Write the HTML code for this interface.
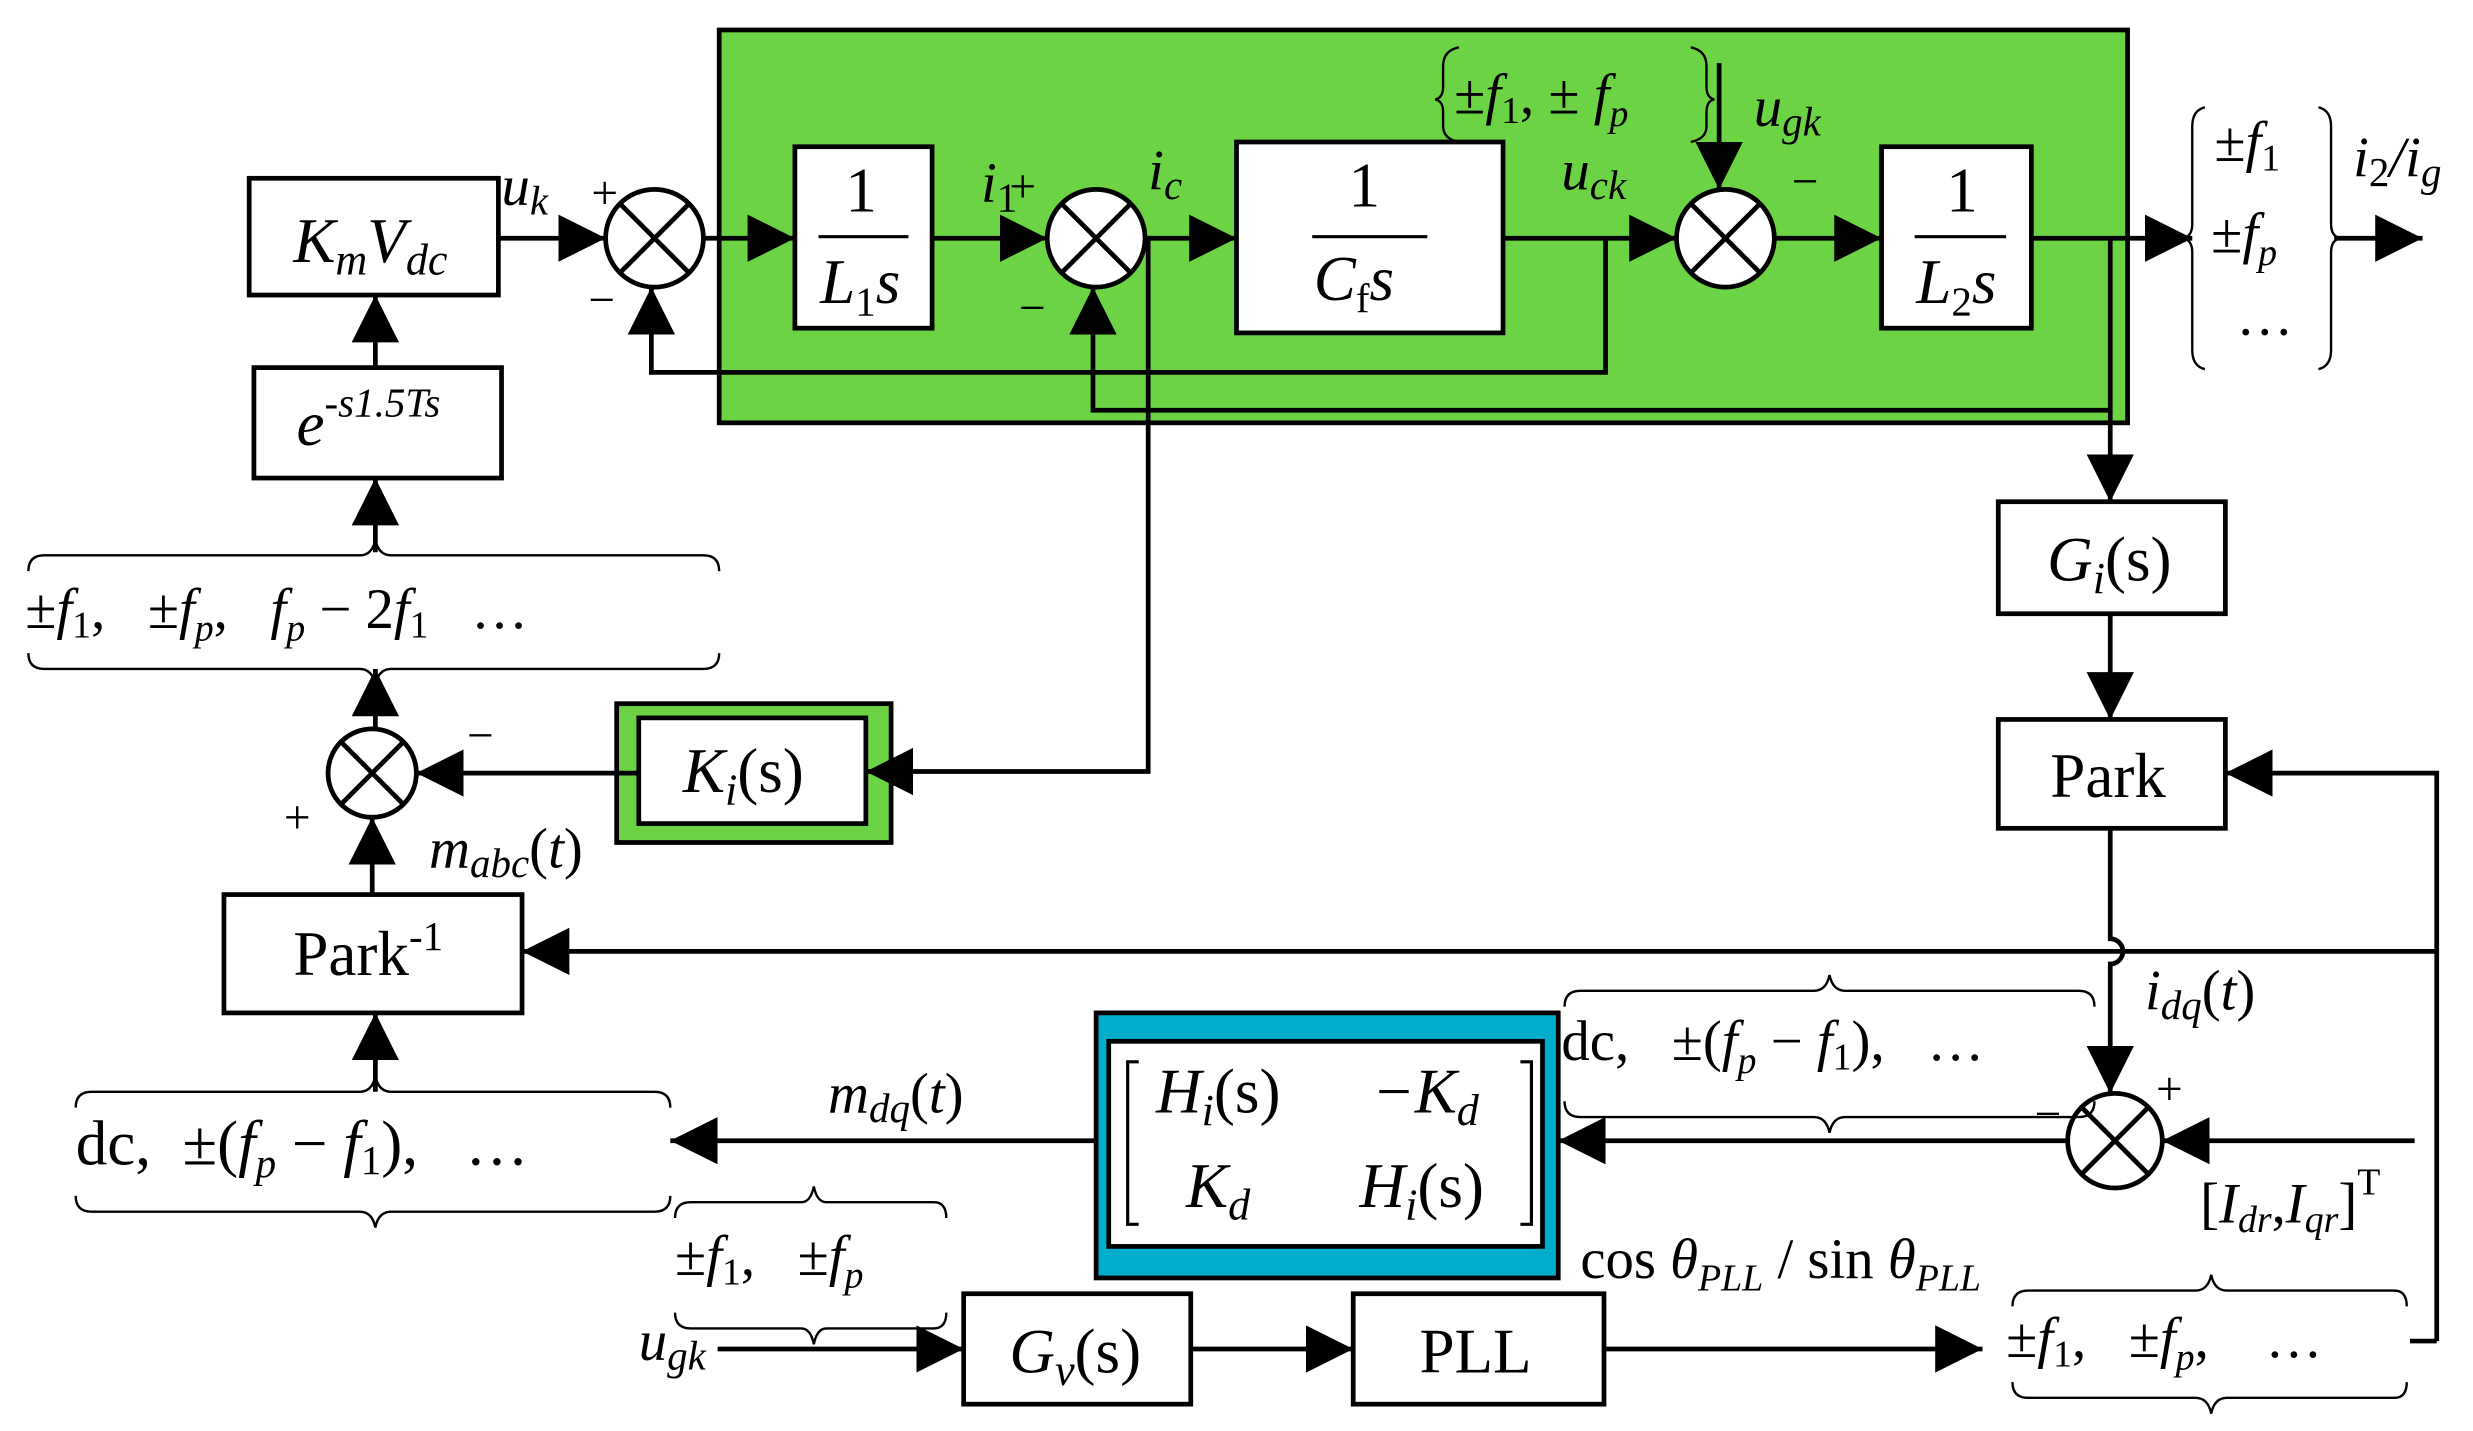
<!DOCTYPE html>
<html><head><meta charset="utf-8"><style>
html,body{margin:0;padding:0;background:#fff}
svg{display:block}
text{font-family:"Liberation Serif",serif;fill:#000;white-space:pre}
.i{font-style:italic}
</style></head><body>
<svg width="2473" height="1431" viewBox="0 0 1568 907" preserveAspectRatio="none" xmlns="http://www.w3.org/2000/svg">
<defs>
<marker id="a" viewBox="0 0 10 10" refX="10" refY="5" markerWidth="30" markerHeight="34" markerUnits="userSpaceOnUse" orient="auto"><path d="M0,0L10,5L0,10z"/></marker>
</defs>
<g stroke="#000" stroke-width="3" fill="none">
<rect x="456" y="19" width="893" height="249" fill="#6cd444"/>
<rect x="158" y="113" width="158" height="74" fill="#fff"/>
<rect x="161" y="233" width="157" height="70" fill="#fff"/>
<rect x="504" y="93" width="87" height="115" fill="#fff"/>
<rect x="784" y="90" width="169" height="121" fill="#fff"/>
<rect x="1193" y="93" width="95" height="115" fill="#fff"/>
<rect x="391" y="446" width="174" height="88" fill="#6cd444"/>
<rect x="405" y="455" width="144" height="67" fill="#fff"/>
<rect x="142" y="567" width="189" height="75" fill="#fff"/>
<rect x="1267" y="318" width="144" height="71" fill="#fff"/>
<rect x="1267" y="456" width="144" height="69" fill="#fff"/>
<rect x="695" y="642" width="293" height="168" fill="#00aecb"/>
<rect x="703" y="660" width="275" height="130" fill="#fff"/>
<rect x="611" y="820" width="144" height="70" fill="#fff"/>
<rect x="858" y="820" width="159" height="70" fill="#fff"/>
<g fill="#fff">
<circle cx="415" cy="151" r="31"/><circle cx="695" cy="151" r="31"/>
<circle cx="1094" cy="151" r="31"/><circle cx="236" cy="490" r="28"/>
<circle cx="1341" cy="723" r="30"/>
</g>
<path d="M393,129L437,173M437,129L393,173M673,129L717,173M717,129L673,173M1072,129L1116,173M1116,129L1072,173M216,470L256,510M256,470L216,510M1320,702L1362,744M1362,702L1320,744"/>
<path d="M519,150H576M832,150H905M1214,150H1272" stroke-width="2"/>
<path d="M316,151H384" marker-end="url(#a)"/>
<path d="M446,151H504" marker-end="url(#a)"/>
<path d="M591,151H664" marker-end="url(#a)"/>
<path d="M726,151H784" marker-end="url(#a)"/>
<path d="M953,151H1063" marker-end="url(#a)"/>
<path d="M1125,151H1193" marker-end="url(#a)"/>
<path d="M1288,151H1390" marker-end="url(#a)"/>
<path d="M1480,151H1536" marker-end="url(#a)"/>
<path d="M1090,40V120" marker-end="url(#a)"/>
<path d="M1018,151V236H413V182" marker-end="url(#a)"/>
<path d="M1338,151V260H693V182" marker-end="url(#a)"/>
<path d="M1338,260V318" marker-end="url(#a)"/>
<path d="M728,151V489H549" marker-end="url(#a)"/>
<path d="M405,490H264" marker-end="url(#a)"/>
<path d="M238,233V187" marker-end="url(#a)"/>
<path d="M238,350V303" marker-end="url(#a)"/>
<path d="M238,462V424" marker-end="url(#a)"/>
<path d="M236,567V518" marker-end="url(#a)"/>
<path d="M238,692V642" marker-end="url(#a)"/>
<path d="M1338,389V456" marker-end="url(#a)"/>
<path d="M1338,525V595A8,8 0 0 1 1338,611V693" marker-end="url(#a)"/>
<path d="M1545,603H331" marker-end="url(#a)"/>
<path d="M1545,850V490H1411" marker-end="url(#a)"/>
<path d="M1528,850H1545"/>
<path d="M1531,723H1371" marker-end="url(#a)"/>
<path d="M1311,723H988" marker-end="url(#a)"/>
<path d="M695,723H425" marker-end="url(#a)"/>
<path d="M455,855H611" marker-end="url(#a)"/>
<path d="M755,855H858" marker-end="url(#a)"/>
<path d="M1017,855H1257" marker-end="url(#a)"/>
<path d="M722,673H715V776H722M964,673H971V776H964" stroke-width="2"/>
</g>
<g stroke="#000" stroke-width="1.5" fill="none">
<path d="M18,362Q18,352 28,352H228Q236,352 238,342Q240,352 248,352H446Q456,352 456,362"/>
<path d="M18,414Q18,424 28,424H228Q236,424 238,434Q240,424 248,424H446Q456,424 456,414"/>
<path d="M48,702Q48,692 58,692H228Q236,692 238,682Q240,692 248,692H415Q425,692 425,702"/>
<path d="M48,758Q48,768 58,768H228Q236,768 238,778Q240,768 248,768H415Q425,768 425,758"/>
<path d="M428,772Q428,762 438,762H508Q514,762 516,752Q518,762 524,762H592Q600,762 600,772"/>
<path d="M428,832Q428,842 438,842H508Q514,842 516,852Q518,842 524,842H592Q600,842 600,832"/>
<path d="M992,638Q992,628 1002,628H1150Q1158,628 1160,618Q1162,628 1170,628H1318Q1328,628 1328,638"/>
<path d="M992,698Q992,708 1002,708H1150Q1158,708 1160,718Q1162,708 1170,708H1318Q1328,708 1328,698"/>
<path d="M1276,828Q1276,818 1286,818H1392Q1400,818 1402,808Q1404,818 1412,818H1518Q1526,818 1526,828"/>
<path d="M1276,876Q1276,886 1286,886H1392Q1400,886 1402,896Q1404,886 1412,886H1518Q1526,886 1526,876"/>
<path d="M1398,68Q1390,70 1390,80V142Q1390,150 1384,151Q1390,152 1390,160V222Q1390,232 1398,234"/>
<path d="M1470,68Q1478,70 1478,80V142Q1478,150 1484,151Q1478,152 1478,160V222Q1478,232 1470,234"/>
<path d="M925,30Q915,32 915,42V55Q915,62 910,63Q915,64 915,71V80Q915,88 925,90"/>
<path d="M1072,30Q1082,32 1082,42V55Q1082,62 1087,63Q1082,64 1082,71V80Q1082,88 1072,90"/>
</g>
<g font-size="40">
<text x="186" y="166" class="i">K<tspan font-size="28" dy="8">m</tspan><tspan dy="-8">V</tspan><tspan font-size="28" dy="8">dc</tspan></text>
<text x="188" y="282" class="i">e<tspan font-size="26" dy="-18">-s1.5Ts</tspan></text>
<text x="536" y="134">1</text>
<text x="520" y="192" class="i">L<tspan font-size="26" dy="8" font-style="normal">1</tspan><tspan dy="-8">s</tspan></text>
<text x="855" y="131">1</text>
<text x="833" y="190" class="i">C<tspan font-size="26" dy="8" font-style="normal">f</tspan><tspan dy="-8">s</tspan></text>
<text x="1234" y="134">1</text>
<text x="1215" y="192" class="i">L<tspan font-size="26" dy="8" font-style="normal">2</tspan><tspan dy="-8">s</tspan></text>
<text x="433" y="502" class="i">K<tspan font-size="28" dy="8">i</tspan><tspan font-style="normal" dy="-8">(s)</tspan></text>
<text x="186" y="618">Park<tspan font-size="26" dy="-16">-1</tspan></text>
<text x="1298" y="368" class="i">G<tspan font-size="28" dy="8">i</tspan><tspan font-style="normal" dy="-8">(s)</tspan></text>
<text x="1300" y="505">Park</text>
<text x="640" y="870" class="i">G<tspan font-size="28" dy="8">v</tspan><tspan font-style="normal" dy="-8">(s)</tspan></text>
<text x="900" y="870">PLL</text>
<text x="733" y="705" class="i">H<tspan font-size="28" dy="8">i</tspan><tspan font-style="normal" dy="-8">(s)</tspan></text>
<text x="870" y="705" class="i">−K<tspan font-size="28" dy="8">d</tspan></text>
<text x="752" y="765" class="i">K<tspan font-size="28" dy="8">d</tspan></text>
<text x="862" y="765" class="i">H<tspan font-size="28" dy="8">i</tspan><tspan font-style="normal" dy="-8">(s)</tspan></text>
</g>
<g font-size="36">
<text x="318" y="130" class="i">u<tspan font-size="26" dy="6">k</tspan></text>
<text x="622" y="128" class="i">i<tspan font-size="26" dy="6" font-style="normal">1</tspan></text>
<text x="728" y="120" class="i">i<tspan font-size="26" dy="6">c</tspan></text>
<text x="990" y="120" class="i">u<tspan font-size="26" dy="6">ck</tspan></text>
<text x="1112" y="80" class="i">u<tspan font-size="26" dy="6">gk</tspan></text>
<text x="1492" y="112" class="i">i<tspan font-size="26" dy="6" font-style="normal">2</tspan><tspan dy="-6">/i</tspan><tspan font-size="26" dy="6">g</tspan></text>
<text x="922" y="72">±<tspan class="i">f</tspan><tspan font-size="24" dy="6">1</tspan><tspan dy="-6">, ± </tspan><tspan class="i">f</tspan><tspan font-size="24" dy="8" class="i">p</tspan></text>
<text x="1404" y="102">±<tspan class="i">f</tspan><tspan font-size="24" dy="6">1</tspan></text>
<text x="1402" y="160">±<tspan class="i">f</tspan><tspan font-size="24" dy="8" class="i">p</tspan></text>
<text x="1418" y="212">…</text>
<text x="16" y="398">±<tspan class="i">f</tspan><tspan font-size="24" dy="6">1</tspan><tspan dy="-6">,   ±</tspan><tspan class="i">f</tspan><tspan font-size="24" dy="8" class="i">p</tspan><tspan dy="-8">,   </tspan><tspan class="i">f</tspan><tspan font-size="24" dy="8" class="i">p</tspan><tspan dy="-8"> − 2</tspan><tspan class="i">f</tspan><tspan font-size="24" dy="6">1</tspan><tspan dy="-6">   …</tspan></text>
<text x="272" y="550" class="i">m<tspan font-size="26" dy="6">abc</tspan><tspan dy="-6" font-style="normal">(</tspan>t<tspan font-style="normal">)</tspan></text>
<text x="525" y="705" class="i">m<tspan font-size="26" dy="6">dq</tspan><tspan dy="-6" font-style="normal">(</tspan>t<tspan font-style="normal">)</tspan></text>
<text x="1360" y="640" class="i">i<tspan font-size="26" dy="6">dq</tspan><tspan dy="-6" font-style="normal">(</tspan>t<tspan font-style="normal">)</tspan></text>
<text x="48" y="738" font-size="40">dc,  ±(<tspan class="i">f</tspan><tspan font-size="26" dy="8" class="i">p</tspan><tspan dy="-8"> − </tspan><tspan class="i">f</tspan><tspan font-size="26" dy="6">1</tspan><tspan dy="-6">),   …</tspan></text>
<text x="990" y="672">dc,   ±(<tspan class="i">f</tspan><tspan font-size="24" dy="8" class="i">p</tspan><tspan dy="-8"> − </tspan><tspan class="i">f</tspan><tspan font-size="24" dy="6">1</tspan><tspan dy="-6">),   …</tspan></text>
<text x="428" y="808">±<tspan class="i">f</tspan><tspan font-size="24" dy="6">1</tspan><tspan dy="-6">,   ±</tspan><tspan class="i">f</tspan><tspan font-size="24" dy="8" class="i">p</tspan></text>
<text x="1272" y="860">±<tspan class="i">f</tspan><tspan font-size="24" dy="6">1</tspan><tspan dy="-6">,   ±</tspan><tspan class="i">f</tspan><tspan font-size="24" dy="8" class="i">p</tspan><tspan dy="-8">,    …</tspan></text>
<text x="1002" y="810">cos <tspan class="i">θ</tspan><tspan font-size="24" dy="8" class="i">PLL</tspan><tspan dy="-8"> / sin </tspan><tspan class="i">θ</tspan><tspan font-size="24" dy="8" class="i">PLL</tspan></text>
<text x="405" y="862" class="i">u<tspan font-size="26" dy="6">gk</tspan></text>
<text x="1395" y="775">[<tspan class="i">I</tspan><tspan font-size="24" dy="6" class="i">dr</tspan><tspan dy="-6">,</tspan><tspan class="i">I</tspan><tspan font-size="24" dy="6" class="i">qr</tspan><tspan dy="-6">]</tspan><tspan font-size="24" dy="-18">T</tspan></text>
</g>
<g font-size="30">
<text x="375" y="132">+</text><text x="373" y="200">−</text>
<text x="640" y="128">+</text><text x="646" y="205">−</text>
<text x="1136" y="125">−</text>
<text x="296" y="476">−</text><text x="180" y="528">+</text>
<text x="1367" y="700">+</text><text x="1290" y="716">−</text>
</g>
</svg>
</body></html>
